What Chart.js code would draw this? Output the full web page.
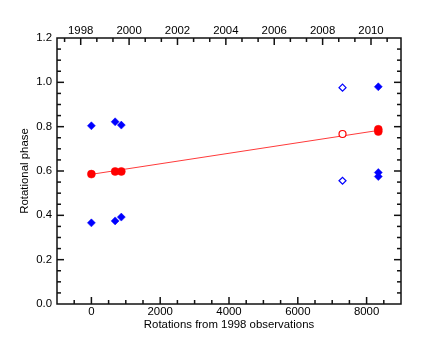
<!DOCTYPE html>
<html>
<head>
<meta charset="utf-8">
<script src="https://cdn.jsdelivr.net/npm/chart.js@4"></script>
<style>
  html, body { margin: 0; padding: 0; background: #fff; }
  canvas { display: block; }
</style>
</head>
<body>
<canvas id="c" width="436" height="349"></canvas>
<script>
// ---- data ----
const rot1998 = [0, 690, 870];
const blueHigh1998 = [0.804, 0.822, 0.807];
const blueLow1998 = [0.366, 0.375, 0.392];
const red1998 = [0.586, 0.598, 0.598];

const rot2009 = 7300;
const blueOpen2009 = [0.976, 0.556];
const redOpen2009 = [0.767];

const rot2010 = 8340;
const blueFilled2010 = [0.980, 0.593, 0.575];
const redFilled2010 = [0.788, 0.778];

const fitRot = [0, 8340];
const fitPhase = [0.585, 0.783];

// axis ranges and tick labels
const xMin = -1000, xMax = 9000;
const xLabelTicks = [0, 2000, 4000, 6000, 8000];
const yLabelTicks = [0.0, 0.2, 0.4, 0.6, 0.8, 1.0, 1.2];
const yearLabelTicks = [1998, 2000, 2002, 2004, 2006, 2008, 2010];
const yearAtXMin = 1997.02, yearAtXMax = 2011.24;

// ---- helpers ----
const pts = (xs, ys) => ys.map((y, i) => ({ x: Array.isArray(xs) ? xs[i] : xs, y }));
const BLUE = '#0000ff', RED = '#ff0000';
const FONT = { family: '"Liberation Sans", Arial, Helvetica, sans-serif', size: 11.4 };

const frameTicks = {
  id: 'frameTicks',
  afterDraw(chart) {
    const { ctx, chartArea: { left, right, top, bottom }, scales } = chart;
    ctx.save();
    ctx.strokeStyle = '#111';
    ctx.lineWidth = 1.5;
    ctx.strokeRect(left, top, right - left, bottom - top);
    const seg = (x1, y1, x2, y2) => { ctx.beginPath(); ctx.moveTo(x1, y1); ctx.lineTo(x2, y2); ctx.stroke(); };
    // bottom ticks (rotations)
    scales.x.ticks.forEach(t => {
      const px = scales.x.getPixelForValue(t.value);
      if (px <= left + 1 || px >= right - 1) return;
      const len = xLabelTicks.includes(t.value) ? 7 : 4;
      seg(px, bottom, px, bottom - len);
    });
    // top ticks (years)
    scales.x2.ticks.forEach(t => {
      const px = scales.x2.getPixelForValue(t.value);
      if (px <= left + 1 || px >= right - 1) return;
      const len = t.label ? 7 : 4;
      seg(px, top, px, top + len);
    });
    // left / right ticks
    scales.y.ticks.forEach(t => {
      const py = scales.y.getPixelForValue(t.value);
      if (py <= top + 1 || py >= bottom - 1) return;
      const len = t.label ? 7 : 4;
      seg(left, py, left + len, py);
      seg(right, py, right - len, py);
    });
    ctx.restore();
  }
};

new Chart(document.getElementById('c'), {
  type: 'scatter',
  data: {
    datasets: [
      { label: 'fit', data: pts(fitRot, fitPhase), showLine: true, borderColor: '#ff3a3a', borderWidth: 1, pointRadius: 0, order: 5 },
      { label: 'blue 1998 high', data: pts(rot1998, blueHigh1998), pointStyle: 'rectRot', pointRadius: 4, backgroundColor: BLUE, borderColor: BLUE, borderWidth: 0.5 },
      { label: 'blue 1998 low', data: pts(rot1998, blueLow1998), pointStyle: 'rectRot', pointRadius: 4, backgroundColor: BLUE, borderColor: BLUE, borderWidth: 0.5 },
      { label: 'red 1998', data: pts(rot1998, red1998), pointStyle: 'circle', pointRadius: 4, backgroundColor: RED, borderColor: RED, borderWidth: 0.5 },
      { label: 'blue open', data: pts(rot2009, blueOpen2009), pointStyle: 'rectRot', pointRadius: 3.5, backgroundColor: '#fff', borderColor: BLUE, borderWidth: 1.2 },
      { label: 'red open', data: pts(rot2009, redOpen2009), pointStyle: 'circle', pointRadius: 3.5, backgroundColor: '#fff', borderColor: RED, borderWidth: 1.2 },
      { label: 'blue 2010', data: pts(rot2010, blueFilled2010), pointStyle: 'rectRot', pointRadius: 4, backgroundColor: BLUE, borderColor: BLUE, borderWidth: 0.5 },
      { label: 'red 2010', data: pts(rot2010, redFilled2010), pointStyle: 'circle', pointRadius: 4, backgroundColor: RED, borderColor: RED, borderWidth: 0.5 }
    ]
  },
  options: {
    responsive: false,
    animation: false,
    layout: { padding: { left: 0, right: 35, top: 0, bottom: 0 } },
    plugins: { legend: { display: false }, tooltip: { enabled: false } },
    scales: {
      x: {
        type: 'linear', position: 'bottom', min: xMin, max: xMax,
        grid: { display: false, drawTicks: false }, border: { display: false },
        afterBuildTicks: s => { const t = []; for (let v = xMin; v <= xMax; v += 500) t.push({ value: v }); s.ticks = t; },
        ticks: { autoSkip: false, maxRotation: 0, padding: 1, color: '#000', font: FONT,
                 callback: v => xLabelTicks.includes(v) ? String(v) : '' },
        title: { display: true, text: 'Rotations from 1998 observations', color: '#000', font: FONT, padding: 17 },
        afterFit: s => { s.height = 45; }
      },
      x2: {
        type: 'linear', position: 'top', min: yearAtXMin, max: yearAtXMax,
        grid: { display: false, drawTicks: false }, border: { display: false },
        afterBuildTicks: s => { const t = []; for (let k = -1; k <= 20; k++) { const v = 1998 + k * 2 / 3; if (v >= yearAtXMin && v <= yearAtXMax) t.push({ value: v }); } s.ticks = t; },
        ticks: { autoSkip: false, maxRotation: 0, padding: 0, color: '#000', font: FONT,
                 callback: v => { const r = Math.round(v); return (Math.abs(v - r) < 1e-6 && yearLabelTicks.includes(r)) ? String(r) : ''; } },
        afterFit: s => { s.height = 38; }
      },
      y: {
        type: 'linear', position: 'left', min: 0, max: 1.2,
        grid: { display: false, drawTicks: false }, border: { display: false },
        afterBuildTicks: s => { const t = []; for (let k = 0; k <= 24; k++) t.push({ value: k * 0.05 }); s.ticks = t; },
        ticks: { autoSkip: false, padding: 5, color: '#000', font: FONT,
                 callback: v => { const k = Math.round(v * 20); return k % 4 === 0 ? (k / 20).toFixed(1) : ''; } },
        title: { display: true, text: 'Rotational phase', color: '#000', font: FONT, padding: 18 },
        afterFit: s => { s.width = 57; }
      }
    }
  },
  plugins: [frameTicks]
});
</script>
</body>
</html>
